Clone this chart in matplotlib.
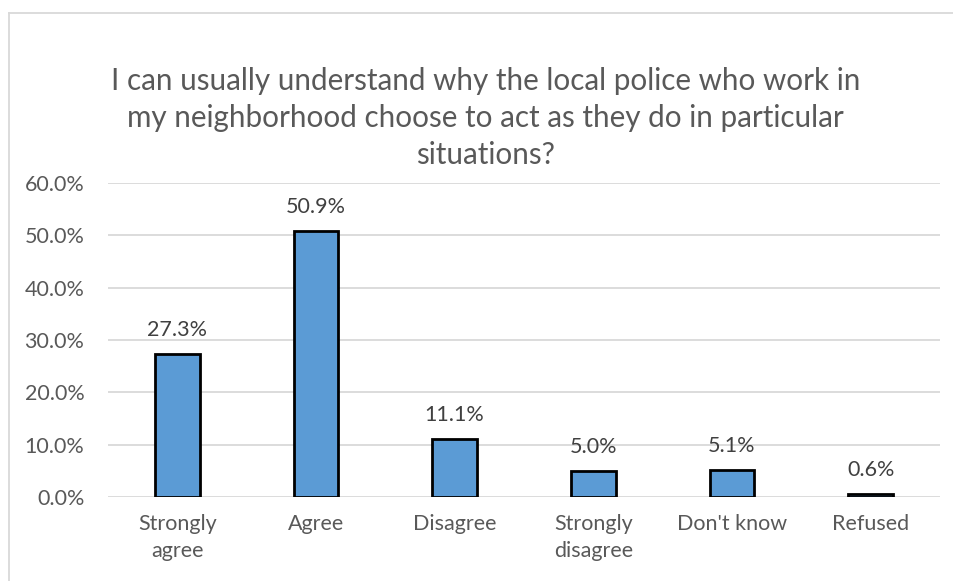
import matplotlib
matplotlib.use("Agg")
import matplotlib.pyplot as plt
from matplotlib.lines import Line2D
from matplotlib.ticker import FuncFormatter

categories = ["Strongly\nagree", "Agree", "Disagree", "Strongly\ndisagree", "Don't know", "Refused"]
values = [27.3, 50.9, 11.1, 5.0, 5.1, 0.6]
yticks = [0, 10, 20, 30, 40, 50, 60]
title = ("I can usually understand why the local police who work in\n"
         "my neighborhood choose to act as they do in particular\n"
         "situations?")

plt.rcParams['font.family'] = ['Lato', 'DejaVu Sans']
W, H = 954, 581
fig = plt.figure(figsize=(W / 100, H / 100), dpi=100)
ax = fig.add_axes([108 / W, 1 - 497 / H, (940 - 108) / W, (497 - 183) / H])

FS = 15.5
x = range(len(values))
ax.bar(x, values, width=0.32, color="#5B9BD5", edgecolor="black", linewidth=2, zorder=3)
for xi, v in zip(x, values):
    ax.text(xi, v + 4.6, f"{v:.1f}%", ha="center", va="center", fontsize=FS, color="#404040")

ax.set_xlim(-0.5, len(values) - 0.5)
ax.set_ylim(0, 60)
ax.set_yticks(yticks)
ax.yaxis.set_major_formatter(FuncFormatter(lambda v, p: f"{v:.1f}%"))
ax.set_xticks(list(x))
ax.set_xticklabels(categories, fontsize=FS, color="#595959", linespacing=1.45)
ax.tick_params(axis="y", labelsize=FS, labelcolor="#595959", length=0, pad=17)
ax.tick_params(axis="x", length=0, pad=12)
ax.grid(axis="y", color="#D9D9D9", linewidth=1.3, zorder=0)
for s in ax.spines.values():
    s.set_visible(False)

fig.text(0.5 + 8 / W / 2 + 0.005, 1 - 118 / H, title, ha="center", va="center", fontsize=21.3,
         color="#595959", linespacing=1.4)

fig.add_artist(Line2D([9 / W, 9 / W], [0, 1 - 12.5 / H], transform=fig.transFigure,
                      color="#D9D9D9", linewidth=1.3))
fig.add_artist(Line2D([9 / W, 1], [1 - 12.5 / H, 1 - 12.5 / H], transform=fig.transFigure,
                      color="#D9D9D9", linewidth=1.3))

fig.savefig("out.png", dpi=100)
